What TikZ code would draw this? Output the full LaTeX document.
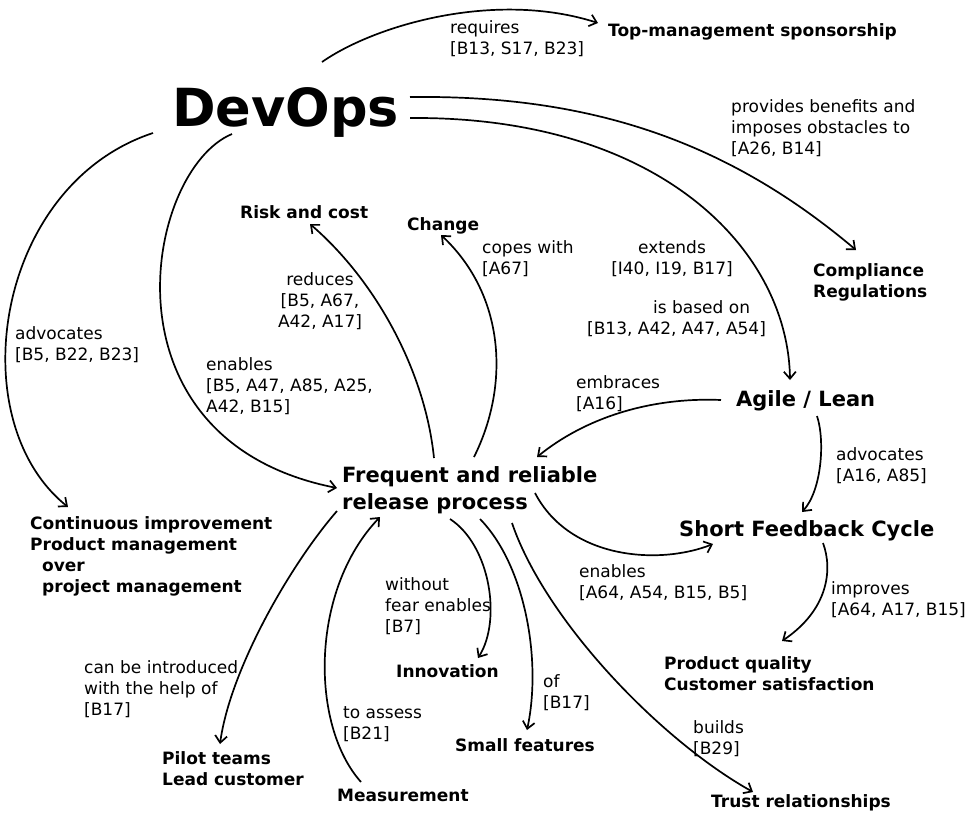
\documentclass[tikz,border=0pt]{standalone}
\usepackage{fontspec}
\setmainfont{DejaVu Sans}
\usetikzlibrary{arrows.meta}
\newcommand{\LL}[1]{\begin{tabular}[t]{@{}l@{}}#1\end{tabular}}
\newcommand{\CC}[1]{\begin{tabular}[t]{@{}c@{}}#1\end{tabular}}
\begin{document}
\begin{tikzpicture}[x=1pt,y=-1pt,
  lbl/.style={inner sep=0pt, anchor=base west, font=\fontsize{17}{21.3}\selectfont},
  clbl/.style={inner sep=0pt, anchor=base, font=\fontsize{17}{21.3}\selectfont},
  cpt/.style={inner sep=0pt, anchor=base west, font=\fontsize{17}{21.3}\selectfont\bfseries},
  big/.style={inner sep=0pt, anchor=base west, font=\fontsize{21}{27}\selectfont\bfseries},
  huge/.style={inner sep=0pt, anchor=base west, font=\fontsize{52.5}{60}\selectfont\bfseries},
  conn/.style={line width=1.7pt, -{Straight Barb[length=7pt,width=12pt]}}]
\path[use as bounding box, fill=white] (0,0) rectangle (970,815);

% concept nodes
\node[huge] (devops) at (172,126) {DevOps};
\node[cpt] (top) at (608,36) {Top-management sponsorship};
\node[cpt] (compl) at (813,276) {\LL{Compliance\\Regulations}};
\node[cpt] (risk) at (240,218) {Risk and cost};
\node[cpt] (change) at (407,230) {Change};
\node[big] (agile) at (736,406) {Agile / Lean};
\node[big] (freq) at (342,482) {\LL{Frequent and reliable\\release process}};
\node[cpt] (cont) at (30,529) {\LL{Continuous improvement\\Product management\\\hspace*{12pt}over\\\hspace*{12pt}project management}};
\node[big] (sfc) at (679,536) {Short Feedback Cycle};
\node[cpt] (innov) at (396,677) {Innovation};
\node[cpt] (prod) at (664,669) {\LL{Product quality\\Customer satisfaction}};
\node[cpt] (small) at (455,751) {Small features};
\node[cpt] (pilot) at (162,764) {\LL{Pilot teams\\Lead customer}};
\node[cpt] (meas) at (337,801) {Measurement};
\node[cpt] (trust) at (711,807) {Trust relationships};

% edge labels
\node[lbl] (l1) at (450,33) {\LL{requires\\{}[B13, S17, B23]}};
\node[lbl] (l2) at (731,112) {\LL{provides benefits and\\imposes obstacles to\\{}[A26, B14]}};
\node[lbl] (l3) at (482,253) {\LL{copes with\\{}[A67]}};
\node[clbl] (l4) at (672,253) {\CC{extends\\{}[I40, I19, B17]}};
\node[lbl] (l5) at (587,313) {\LL{\hspace*{66pt}is based on\\{}[B13, A42, A47, A54]}};
\node[clbl] (l6) at (320,285) {\CC{reduces\\{}[B5, A67,\\A42, A17]}};
\node[lbl] (l7) at (15,339.5) {\LL{advocates\\{}[B5, B22, B23]}};
\node[lbl] (l8) at (206,370) {\LL{enables\\{}[B5, A47, A85, A25,\\A42, B15]}};
\node[lbl] (l9) at (576,388) {\LL{embraces\\{}[A16]}};
\node[lbl] (l10) at (836,460) {\LL{advocates\\{}[A16, A85]}};
\node[lbl] (l11) at (579,577) {\LL{enables\\{}[A64, A54, B15, B5]}};
\node[lbl] (l12) at (385,590) {\LL{without\\fear enables\\{}[B7]}};
\node[lbl] (l13) at (831,594) {\LL{improves\\{}[A64, A17, B15]}};
\node[lbl] (l14) at (84,673) {\LL{can be introduced\\with the help of\\{}[B17]}};
\node[lbl] (l15) at (543,687) {\LL{of\\{}[B17]}};
\node[lbl] (l16) at (343,718) {\LL{to assess\\{}[B21]}};
\node[lbl] (l17) at (693,733) {\LL{builds\\{}[B29]}};

% connectors
\draw[conn] ([shift={(150,-64)}]devops.base west) .. controls (375,25) and (495,-10) .. ([shift={(-10,-13)}]top.base west);
\draw[conn] ([shift={(238,-29)}]devops.base west) .. controls (580,95) and (720,135) .. ([shift={(43,-26)}]compl.base west);
\draw[conn] ([shift={(238,-8)}]devops.base west) .. controls (660,116) and (788,250) .. ([shift={(54,-26)}]agile.base west);
\draw[conn] ([shift={(-19,7)}]devops.base west) .. controls (-5,185) and (-40,420) .. ([shift={(38,-22)}]cont.base west);
\draw[conn] ([shift={(60,8)}]devops.base west) .. controls (145,170) and (95,440) .. ([shift={(-5,6)}]freq.base west);
\draw[conn] ([shift={(92,-24)}]freq.base west) .. controls (425,370) and (375,280) .. ([shift={(70,6)}]risk.base west);
\draw[conn] ([shift={(132,-25)}]freq.base west) .. controls (510,385) and (505,295) .. ([shift={(34,5)}]change.base west);
\draw[conn] ([shift={(-15,-6)}]agile.base west) .. controls (650,397) and (585,418) .. ([shift={(195,-25)}]freq.base west);
\draw[conn] ([shift={(81,10)}]agile.base west) .. controls (825,440) and (822,490) .. ([shift={(123,-24)}]sfc.base west);
\draw[conn] ([shift={(193,11)}]freq.base west) .. controls (570,560) and (660,565) .. ([shift={(34,8)}]sfc.base west);
\draw[conn] ([shift={(144,7)}]sfc.base west) .. controls (833,570) and (828,610) .. ([shift={(118,-28)}]prod.base west);
\draw[conn] ([shift={(108,37)}]freq.base west) .. controls (490,545) and (502,620) .. ([shift={(82,-19)}]innov.base west);
\draw[conn] ([shift={(138,37)}]freq.base west) .. controls (525,565) and (542,660) .. ([shift={(72,-21)}]small.base west);
\draw[conn] ([shift={(170,41)}]freq.base west) .. controls (545,620) and (660,740) .. ([shift={(42,-15)}]trust.base west);
\draw[conn] ([shift={(-5,29)}]freq.base west) .. controls (290,565) and (230,670) .. ([shift={(58,-20)}]pilot.base west);
\draw[conn] ([shift={(24,-19)}]meas.base west) .. controls (310,725) and (310,590) .. ([shift={(38,35)}]freq.base west);
\end{tikzpicture}
\end{document}
